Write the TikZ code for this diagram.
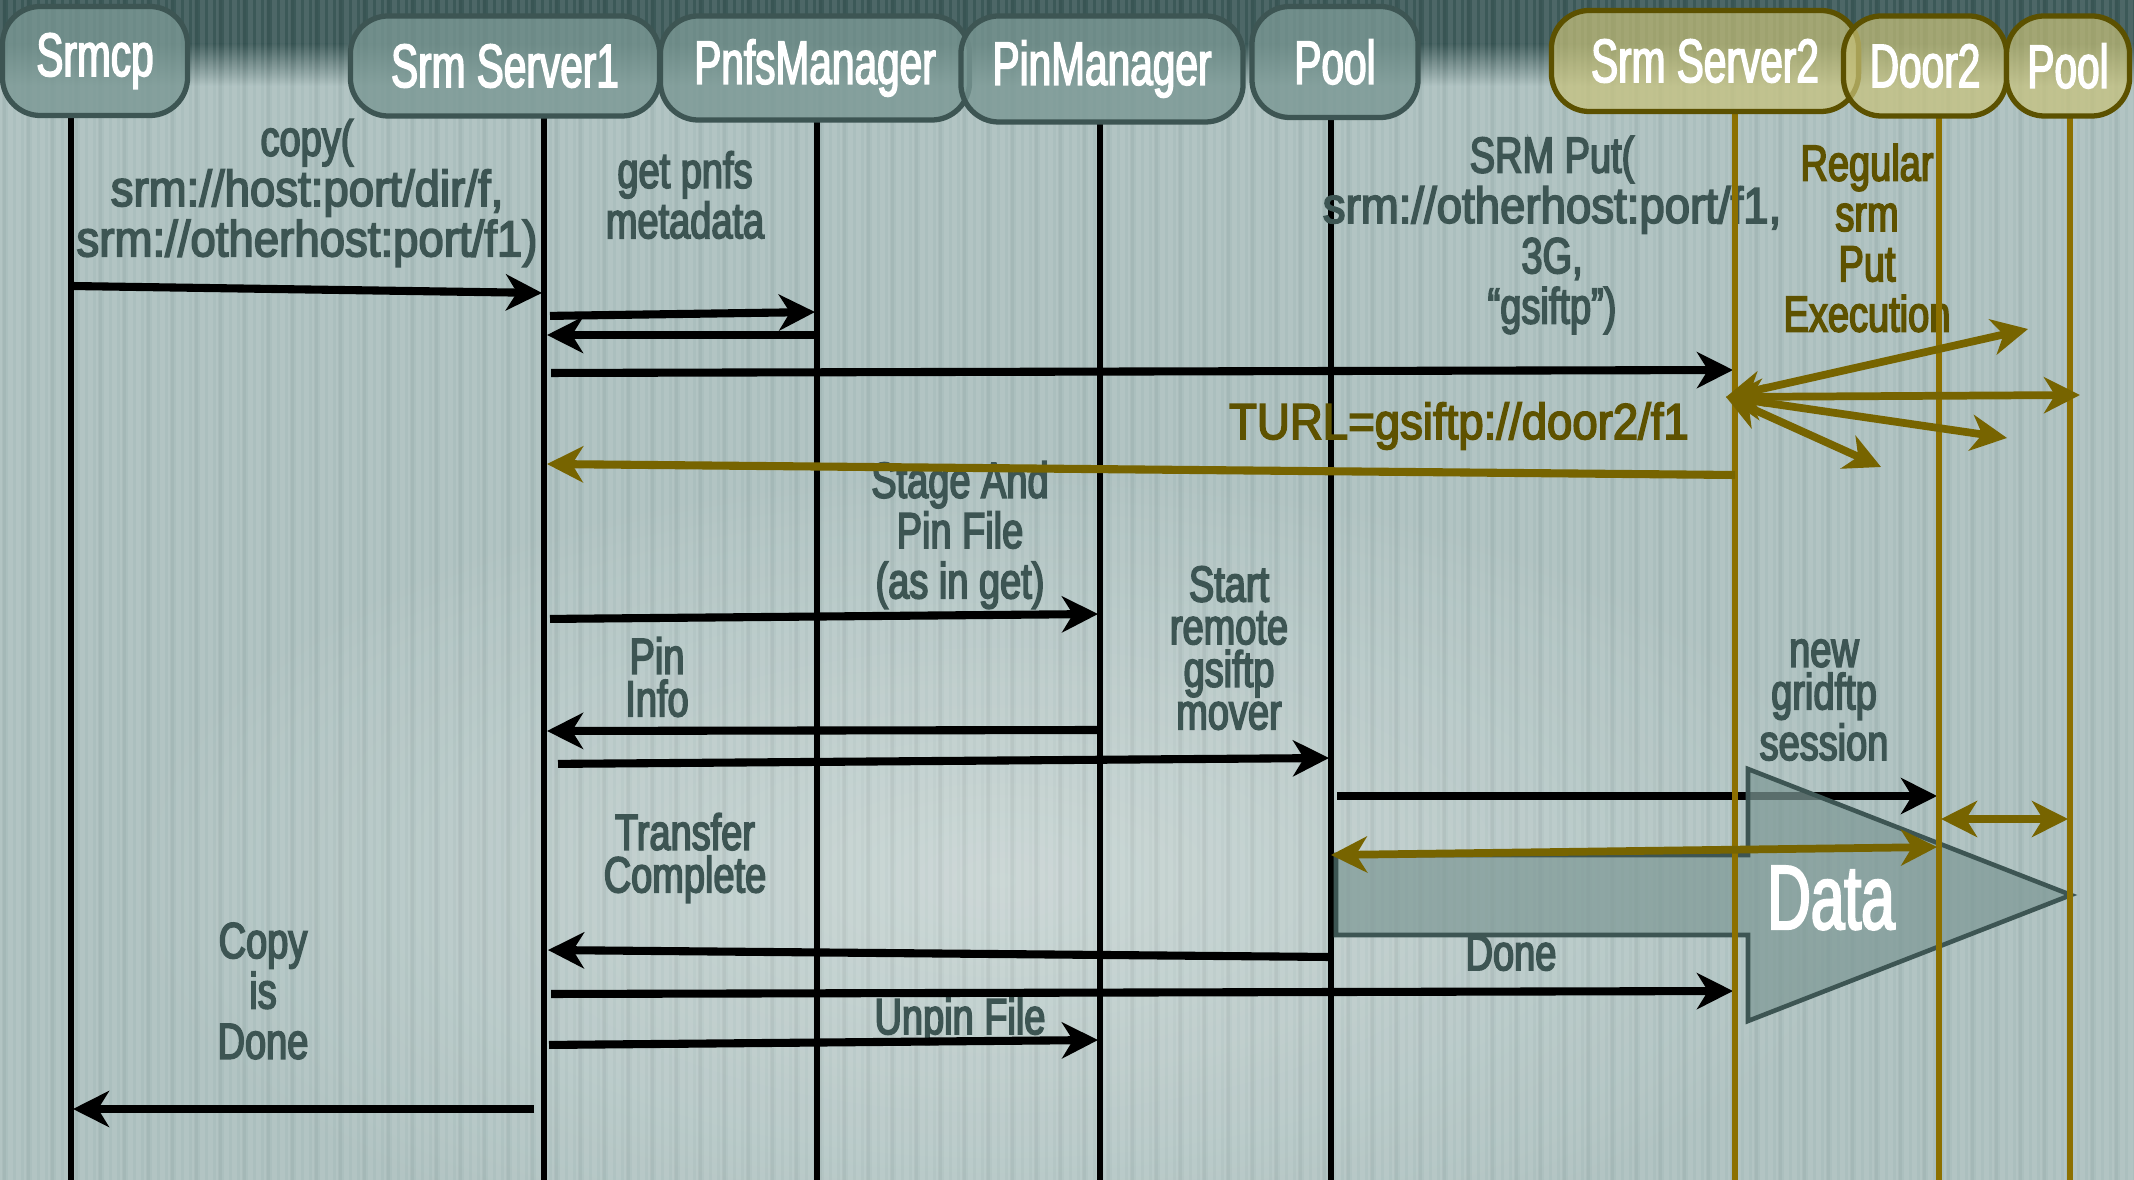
\documentclass[tikz,border=0pt]{standalone}
\usepackage{fontspec}
\setmainfont{Liberation Sans}[FakeStretch=0.75, FakeBold=3.2]
\newfontfamily\hdrf{Liberation Sans}[FakeStretch=0.66, FakeBold=2.4]
\newfontfamily\urlf{Liberation Sans}[FakeStretch=0.9, FakeBold=3.2]
\usetikzlibrary{arrows.meta}

\definecolor{bgbase}{HTML}{ABBFBE}
\definecolor{bglight}{HTML}{D0DBD9}
\definecolor{band}{HTML}{3C5958}
\definecolor{textc}{HTML}{3D5553}
\definecolor{boxfill}{HTML}{7A9894}
\definecolor{boxline}{HTML}{3D5553}
\definecolor{goldfill}{HTML}{C8C27A}
\definecolor{goldline}{HTML}{5C5100}
\definecolor{goldlife}{HTML}{8C7000}
\definecolor{goldarrow}{HTML}{776400}
\definecolor{goldtext}{HTML}{5E5200}
\definecolor{datafill}{HTML}{7E9996}

\newcommand\lblsize{\fontsize{14.4pt}{14.3pt}\selectfont}
\newcommand\lbltight{\fontsize{14.4pt}{12.1pt}\selectfont}

\begin{document}
\begin{tikzpicture}[x=0.01cm, y=-0.01cm,
  tip/.tip={Stealth[length=0.36cm, width=0.36cm, inset=0.11cm]},
  hdrbox/.style={draw=boxline, line width=1.5pt, fill=boxfill, fill opacity=0.8,
    text opacity=1, rounded corners=0.38cm, inner sep=0,
    text=white, font=\hdrf\fontsize{17.5pt}{17.5pt}\selectfont},
  hdrgold/.style={hdrbox, draw=goldline, fill=goldfill, fill opacity=0.7},
  lifeblack/.style={draw=black, line width=1.9pt},
  lifegold/.style={draw=goldlife, line width=1.9pt},
  msgblack/.style={draw=black, line width=2.3pt, -tip},
  msggold/.style={draw=goldarrow, line width=2.3pt, -tip},
  msgboth/.style={draw=goldarrow, line width=2.2pt, tip-tip},
  lbl/.style={text=textc, align=center, inner sep=0, font=\lblsize},
  lbltt/.style={lbl, font=\lbltight},
  lblgold/.style={lbl, text=goldtext}]

\useasboundingbox (0,0) rectangle (2134,1180);

% ---- background: pale slate with a darker band on top and fine vertical ribs
\fill[bgbase] (0,0) rectangle (2134,1180);
\shade[inner color=bglight, outer color=bgbase, opacity=0.8] (1000,880) ellipse (900 and 420);
\fill[band] (0,0) rectangle (2134,44);
\shade[top color=band, bottom color=bgbase] (0,44) rectangle (2134,86);
\foreach \i in {0,...,266}{
  \pgfmathsetmacro{\w}{mod(\i,3)==0 ? 3 : 5}
  \fill[white, opacity=0.09] (\i*8,0) rectangle +(\w,1180);
}
\foreach \i in {0,...,88}{
  \fill[black, opacity=0.035] (\i*24+2,0) rectangle +(4,1180);
}

% ---- lifeline anchors
\coordinate (L-srmcp) at (71,118);
\coordinate (L-srv1)  at (544,118);
\coordinate (L-pnfs)  at (817,120);
\coordinate (L-pin)   at (1100,122);
\coordinate (L-pool)  at (1331,118);
\coordinate (L-srv2)  at (1735,112);
\coordinate (L-door2) at (1939,116);
\coordinate (L-pool2) at (2070,116);

% ---- black lifelines
\foreach \n in {srmcp,srv1,pnfs,pin,pool}{
  \draw[lifeblack] (L-\n) -- (L-\n |- 0,1180);
}

% ---- message labels
\node[lbl] (t-copy) at (307,193) {copy(\\{\urlf srm://host:port/dir/f,}\\{\urlf srm://otherhost:port/f1)}};
\node[lbl] (t-meta) at (685,195) {get pnfs\\metadata};
\node[lbl] (t-put) at (1552,235) {SRM Put(\\{\urlf srm://otherhost:port/f1,}\\3G,\\“gsiftp”)};
\node[lblgold] (t-exec) at (1867,238) {Regular\\srm\\Put\\Execution};
\node[lblgold] (t-turl) at (1459,426) {{\urlf TURL=gsiftp://door2/f1}};
\node[lbl] (t-stage) at (960,535) {Stage And\\Pin File\\(as in get)};
\node[lbltt] (t-pin) at (657,677) {Pin\\Info};
\node[lbltt] (t-mover) at (1229,648) {Start\\remote\\gsiftp\\mover};
\node[lbltt] (t-grid) at (1824,700) {new\\gridftp\\session};
\node[lbltt] (t-xfer) at (685,858) {Transfer\\Complete};
\node[lbl] (t-done) at (1511,953) {Done};
\node[lbl] (t-unpin) at (960,1021) {Unpin File};
\node[lbl] (t-copydone) at (263,991) {Copy\\is\\Done};

% ---- black messages
\draw[msgblack, shorten >=0.02cm] (L-srmcp |- 0,286) -- (L-srv1 |- 0,293);
\draw[msgblack, shorten <=0.06cm, shorten >=0.02cm] (L-srv1 |- 0,316) -- (L-pnfs |- 0,312);
\draw[msgblack, shorten >=0.03cm] (L-pnfs |- 0,335) -- (L-srv1 |- 0,335);
\draw[msgblack, shorten <=0.07cm, shorten >=0.02cm] (L-srv1 |- 0,373) -- (L-srv2 |- 0,370);
\draw[msgblack, shorten <=0.06cm, shorten >=0.02cm] (L-srv1 |- 0,619) -- (L-pin |- 0,614);
\draw[msgblack, shorten >=0.03cm] (L-pin |- 0,730) -- (L-srv1 |- 0,731);
\draw[msgblack, shorten <=0.14cm, shorten >=0.02cm] (L-srv1 |- 0,764) -- (L-pool |- 0,758);
\draw[msgblack, shorten <=0.06cm, shorten >=0.02cm] (L-pool |- 0,796) -- (L-door2 |- 0,796);
\draw[msgblack, shorten >=0.04cm] (L-pool |- 0,957) -- (L-srv1 |- 0,950);
\draw[msgblack, shorten <=0.07cm, shorten >=0.02cm] (L-srv1 |- 0,994) -- (L-srv2 |- 0,991);
\draw[msgblack, shorten <=0.05cm, shorten >=0.02cm] (L-srv1 |- 0,1045) -- (L-pin |- 0,1040);
\draw[msgblack, shorten <=0.1cm, shorten >=0.02cm] (L-srv1 |- 0,1109) -- (L-srmcp |- 0,1109);

% ---- data transfer arrow
\draw[draw=boxline, line width=1.3pt, fill=datafill, fill opacity=0.72, line join=miter]
  (1336,855) -- (1748,855) -- (1748,769) -- (2071,895) -- (1748,1021)
  -- (1748,935) -- (1336,935) -- cycle;

% ---- gold lifelines
\foreach \n in {srv2,door2,pool2}{
  \draw[lifegold] (L-\n) -- (L-\n |- 0,1180);
}

% ---- gold messages
\draw[msggold, shorten >=0.03cm] (L-srv2 |- 0,475) -- (L-srv1 |- 0,464);
\coordinate (fan) at (1726,397);
\coordinate (F1) at (2028,329);
\coordinate (F2) at (2080,395);
\coordinate (F3) at (2007,438);
\coordinate (F4) at (1881,467);
\draw[msgboth] (fan) -- (F1);
\draw[msgboth] (fan) -- (F2);
\draw[msgboth] (fan) -- (F3);
\draw[msgboth] (fan) -- (F4);
\draw[msgboth, shorten <=0.02cm, shorten >=0.02cm] (L-door2 |- 0,819) -- (L-pool2 |- 0,819);
\draw[msgboth, shorten >=0.02cm] (L-pool |- 0,855) -- (L-door2 |- 0,847);

\node[text=white, inner sep=0, font=\hdrf\fontsize{26pt}{26pt}\selectfont] (t-data) at (1831,898) {Data};

% ---- participant headers
\node[hdrbox, minimum width=1.85cm, minimum height=1.09cm] (srmcp) at (95,61) {Srmcp};
\node[hdrbox, minimum width=3.09cm, minimum height=1.00cm] (srv1) at (505,66) {Srm Server1};
\node[hdrbox, minimum width=3.09cm, minimum height=1.04cm] (pnfs) at (815,68) {PnfsManager};
\node[hdrbox, minimum width=2.82cm, minimum height=1.06cm] (pin) at (1102,69) {PinManager};
\node[hdrbox, minimum width=1.66cm, minimum height=1.11cm] (pool) at (1335,62) {Pool};
\node[hdrgold, minimum width=3.07cm, minimum height=1.01cm] (srv2) at (1705,61) {Srm Server2};
\node[hdrgold, minimum width=1.63cm, minimum height=1.00cm] (door2) at (1925,66) {Door2};
\node[hdrgold, minimum width=1.23cm, minimum height=1.00cm] (pool2) at (2068,66) {Pool};

\end{tikzpicture}
\end{document}
